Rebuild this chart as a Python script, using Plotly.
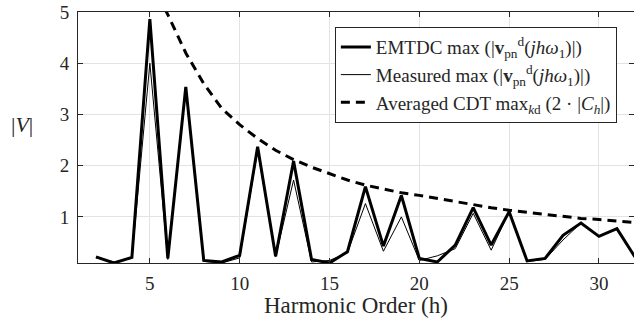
import plotly.graph_objects as go

h = list(range(2, 33))
emtdc = [0.22, 0.10, 0.21, 4.86, 0.19, 3.54, 0.15, 0.12, 0.25, 2.37, 0.23, 2.09, 0.17, 0.10,
         0.32, 1.59, 0.43, 1.42, 0.19, 0.12, 0.45, 1.18, 0.45, 1.10, 0.14, 0.19, 0.64, 0.88,
         0.62, 0.77, 0.22]
measured = [0.20, 0.12, 0.19, 4.00, 0.17, 3.50, 0.13, 0.10, 0.20, 2.30, 0.22, 1.72, 0.12, 0.15,
            0.30, 1.26, 0.33, 1.00, 0.15, 0.24, 0.38, 1.07, 0.35, 1.10, 0.13, 0.17, 0.55, 0.88,
            0.62, 0.77, 0.22]
h_cdt = list(range(4, 33))
cdt = [7.0, 5.6, 4.95, 4.2, 3.6, 3.12, 2.8, 2.53, 2.3, 2.12, 1.97, 1.84, 1.72, 1.62, 1.54,
       1.47, 1.42, 1.36, 1.29, 1.23, 1.18, 1.13, 1.09, 1.05, 1.0, 0.97, 0.95, 0.92, 0.89]

x_ticks = [5, 10, 15, 20, 25, 30]
y_ticks = [1, 2, 3, 4, 5]

FONT = "Times New Roman"
TXT = "#262626"

fig = go.Figure()
fig.add_trace(go.Scatter(x=h, y=emtdc, mode="lines", line=dict(color="black", width=3),
                         name="EMTDC max (|<b>v</b><sub>pn</sub><sup>d</sup>(<i>jhω</i><sub>1</sub>)|)"))
fig.add_trace(go.Scatter(x=h, y=measured, mode="lines", line=dict(color="black", width=1),
                         name="Measured max (|<b>v</b><sub>pn</sub><sup>d</sup>(<i>jhω</i><sub>1</sub>)|)"))
fig.add_trace(go.Scatter(x=h_cdt, y=cdt, mode="lines", line=dict(color="black", width=3, dash="9px,6px"),
                         name="Averaged CDT max<sub><i>k</i>d</sub> (2 · |<i>C<sub>h</sub></i>|)"))

axis_common = dict(showline=True, linecolor=TXT, linewidth=1, mirror="ticks", ticks="inside",
                   ticklen=5, tickcolor=TXT, showgrid=True, gridcolor="#e3e3e3", gridwidth=1,
                   zeroline=False, tickfont=dict(family=FONT, size=19, color=TXT))

fig.update_xaxes(range=[1, 31.95], tickvals=x_ticks, ticklabelstandoff=3, **axis_common)
fig.update_yaxes(range=[0.1, 5], tickvals=y_ticks, ticklabelstandoff=4, **axis_common)

fig.add_annotation(text="Harmonic Order (h)", xref="paper", yref="paper", x=0.5, y=-0.17,
                   xanchor="center", yanchor="middle", showarrow=False,
                   font=dict(family=FONT, size=23, color=TXT))
fig.add_annotation(text="|<i>V</i>|", xref="paper", yref="paper", x=-0.1, y=0.55,
                   xanchor="center", yanchor="middle", showarrow=False,
                   font=dict(family=FONT, size=22, color=TXT))

fig.update_layout(
    width=634, height=327,
    font=dict(family=FONT, color=TXT),
    margin=dict(l=78, r=0, t=12, b=64),
    plot_bgcolor="white", paper_bgcolor="white",
    showlegend=True,
    legend=dict(x=0.462, y=0.94, xanchor="left", yanchor="top",
                bgcolor="white", bordercolor=TXT, borderwidth=1,
                font=dict(family=FONT, size=19, color=TXT),
                itemwidth=30, tracegroupgap=0),
)

fig.write_html("out.html")
